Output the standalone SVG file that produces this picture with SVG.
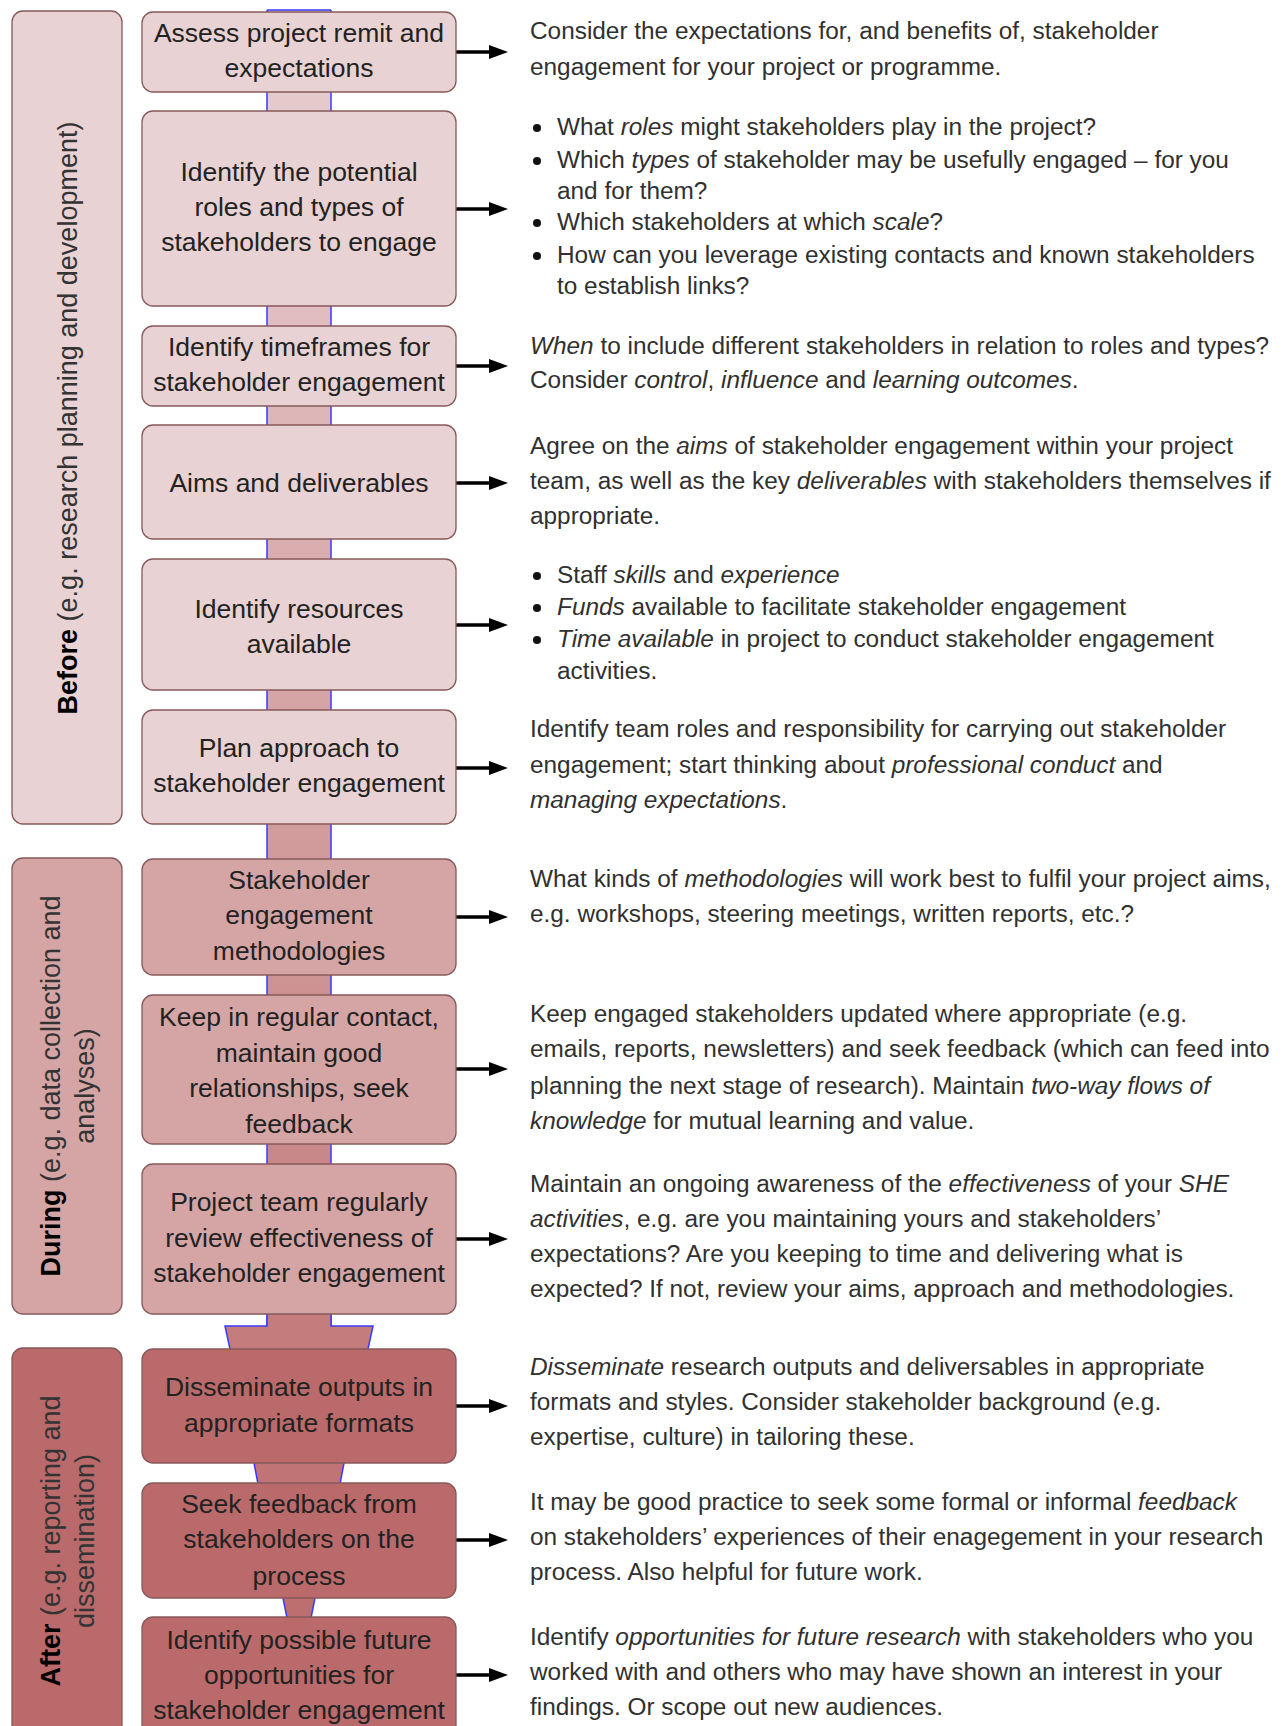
<svg xmlns="http://www.w3.org/2000/svg" width="1284" height="1726" viewBox="0 0 1284 1726">
<style>
.pb{fill:#e8d2d3;stroke:#86595a;stroke-width:1.3}
.pd{fill:#d5a5a6;stroke:#86595a;stroke-width:1.3}
.pa{fill:#bb6a6b;stroke:#86595a;stroke-width:1.3}
.nt{font-family:"Liberation Sans",Arial,sans-serif;font-size:26.5px;fill:#222;text-anchor:middle}
.vt{font-family:"Liberation Sans",Arial,sans-serif;font-size:27px;fill:#333;text-anchor:middle}
.vt .b{font-weight:bold;fill:#000}
.rt{font-family:"Liberation Sans",Arial,sans-serif;font-size:23px;fill:#303030}
.i{font-style:italic}
.con{stroke:#000;stroke-width:3.5;fill:none}
.blue{stroke:#3a3aff;stroke-width:1.5}
</style>
<defs>
<linearGradient id="sg" gradientUnits="userSpaceOnUse" x1="0" y1="10" x2="0" y2="1620">
<stop offset="0" stop-color="#e8d0d1"/>
<stop offset="0.82" stop-color="#c47c7d"/>
<stop offset="1" stop-color="#bd6d6e"/>
</linearGradient>
<marker id="ah" markerUnits="userSpaceOnUse" markerWidth="19" markerHeight="14" refX="3" refY="7" orient="auto">
<path d="M0,0 L19,7 L0,14 z" fill="#000"/>
</marker>
</defs>

<!-- phase panels -->
<g id="phase-before">
<rect class="pb" x="12" y="11" width="110" height="813" rx="11"/>
<text class="vt" transform="translate(77,418) rotate(-90)"><tspan class="b">Before</tspan> (e.g. research planning and development)</text>
</g>
<g id="phase-during">
<rect class="pd" x="12" y="858" width="110" height="456" rx="11"/>
<text class="vt" transform="translate(60,1086) rotate(-90)"><tspan class="b">During</tspan> (e.g. data collection and</text>
<text class="vt" transform="translate(94,1086) rotate(-90)">analyses)</text>
</g>
<g id="phase-after">
<rect class="pa" x="12" y="1348" width="110" height="400" rx="11"/>
<text class="vt" transform="translate(60,1541) rotate(-90)"><tspan class="b">After</tspan> (e.g. reporting and</text>
<text class="vt" transform="translate(94,1541) rotate(-90)">dissemination)</text>
</g>

<!-- connectors -->
<g id="connectors">
<rect x="267" y="10" width="64" height="1316" fill="url(#sg)"/>
<path class="blue" d="M267,10 H331 M267,10 V1326 M331,10 V1326" fill="none"/>
<polygon points="267,1313 267,1326 225,1326 230,1349 368,1349 373,1326 331,1326 331,1313" fill="#c47c7d"/>
<path class="blue" fill="none" d="M267,1314 V1326 H225 L230,1349 M331,1314 V1326 H373 L368,1349"/>
<polygon points="254,1462 344,1462 340,1484 258,1484" fill="#c07475"/>
<path class="blue" fill="none" d="M254,1463 L258,1484 M344,1463 L340,1484"/>
<polygon points="283,1597 315,1597 311,1618 287,1618" fill="#bd6e6f"/>
<path class="blue" fill="none" d="M283,1598 L287,1618 M315,1598 L311,1618"/>
<line class="con" x1="456" y1="52" x2="492" y2="52" marker-end="url(#ah)"/>
<line class="con" x1="456" y1="209" x2="492" y2="209" marker-end="url(#ah)"/>
<line class="con" x1="456" y1="366" x2="492" y2="366" marker-end="url(#ah)"/>
<line class="con" x1="456" y1="483" x2="492" y2="483" marker-end="url(#ah)"/>
<line class="con" x1="456" y1="625" x2="492" y2="625" marker-end="url(#ah)"/>
<line class="con" x1="456" y1="768" x2="492" y2="768" marker-end="url(#ah)"/>
<line class="con" x1="456" y1="917" x2="492" y2="917" marker-end="url(#ah)"/>
<line class="con" x1="456" y1="1069" x2="492" y2="1069" marker-end="url(#ah)"/>
<line class="con" x1="456" y1="1239" x2="492" y2="1239" marker-end="url(#ah)"/>
<line class="con" x1="456" y1="1406" x2="492" y2="1406" marker-end="url(#ah)"/>
<line class="con" x1="456" y1="1540" x2="492" y2="1540" marker-end="url(#ah)"/>
<line class="con" x1="456" y1="1675" x2="492" y2="1675" marker-end="url(#ah)"/>
</g>

<!-- step nodes -->
<g id="n1"><rect class="pb" x="142" y="12" width="314" height="80" rx="11"/>
<text class="nt" x="299" y="42">Assess project remit and</text><text class="nt" x="299" y="77">expectations</text></g>
<g id="n2"><rect class="pb" x="142" y="111" width="314" height="195" rx="11"/>
<text class="nt" x="299" y="181">Identify the potential</text><text class="nt" x="299" y="216">roles and types of</text><text class="nt" x="299" y="251">stakeholders to engage</text></g>
<g id="n3"><rect class="pb" x="142" y="326" width="314" height="80" rx="11"/>
<text class="nt" x="299" y="356">Identify timeframes for</text><text class="nt" x="299" y="391">stakeholder engagement</text></g>
<g id="n4"><rect class="pb" x="142" y="425" width="314" height="114" rx="11"/>
<text class="nt" x="299" y="492">Aims and deliverables</text></g>
<g id="n5"><rect class="pb" x="142" y="559" width="314" height="131" rx="11"/>
<text class="nt" x="299" y="618">Identify resources</text><text class="nt" x="299" y="653">available</text></g>
<g id="n6"><rect class="pb" x="142" y="710" width="314" height="114" rx="11"/>
<text class="nt" x="299" y="757">Plan approach to</text><text class="nt" x="299" y="792">stakeholder engagement</text></g>
<g id="n7"><rect class="pd" x="142" y="859" width="314" height="116" rx="11"/>
<text class="nt" x="299" y="889">Stakeholder</text><text class="nt" x="299" y="924">engagement</text><text class="nt" x="299" y="960">methodologies</text></g>
<g id="n8"><rect class="pd" x="142" y="995" width="314" height="149" rx="11"/>
<text class="nt" x="299" y="1026">Keep in regular contact,</text><text class="nt" x="299" y="1062">maintain good</text><text class="nt" x="299" y="1097">relationships, seek</text><text class="nt" x="299" y="1133">feedback</text></g>
<g id="n9"><rect class="pd" x="142" y="1164" width="314" height="150" rx="11"/>
<text class="nt" x="299" y="1211">Project team regularly</text><text class="nt" x="299" y="1247">review effectiveness of</text><text class="nt" x="299" y="1282">stakeholder engagement</text></g>
<g id="n10"><rect class="pa" x="142" y="1349" width="314" height="114" rx="11"/>
<text class="nt" x="299" y="1396">Disseminate outputs in</text><text class="nt" x="299" y="1432">appropriate formats</text></g>
<g id="n11"><rect class="pa" x="142" y="1483" width="314" height="115" rx="11"/>
<text class="nt" x="299" y="1513">Seek feedback from</text><text class="nt" x="299" y="1548">stakeholders on the</text><text class="nt" x="299" y="1585">process</text></g>
<g id="n12"><rect class="pa" x="142" y="1617" width="314" height="140" rx="11"/>
<text class="nt" x="299" y="1649">Identify possible future</text><text class="nt" x="299" y="1684">opportunities for</text><text class="nt" x="299" y="1719">stakeholder engagement</text></g>

<!-- bullets -->
<g id="bullets" fill="#111">
<circle cx="537" cy="128" r="4"/><circle cx="537" cy="161" r="4"/><circle cx="537" cy="223" r="4"/><circle cx="537" cy="256" r="4"/>
<circle cx="537" cy="576" r="4"/><circle cx="537" cy="608" r="4"/><circle cx="537" cy="640" r="4"/>
</g>

<!-- descriptions -->
<g id="descriptions" class="rt" transform="translate(530 0) scale(1.06 1)">
<text x="0" y="39">Consider the expectations for, and benefits of, stakeholder</text>
<text x="0" y="75">engagement for your project or programme.</text>

<text x="25.5" y="135">What <tspan class="i">roles</tspan> might stakeholders play in the project?</text>
<text x="25.5" y="168">Which <tspan class="i">types</tspan> of stakeholder may be usefully engaged – for you</text>
<text x="25.5" y="199">and for them?</text>
<text x="25.5" y="230">Which stakeholders at which <tspan class="i">scale</tspan>?</text>
<text x="25.5" y="263">How can you leverage existing contacts and known stakeholders</text>
<text x="25.5" y="294">to establish links?</text>

<text x="0" y="354"><tspan class="i">When</tspan> to include different stakeholders in relation to roles and types?</text>
<text x="0" y="388">Consider <tspan class="i">control</tspan>, <tspan class="i">influence</tspan> and <tspan class="i">learning outcomes</tspan>.</text>

<text x="0" y="454">Agree on the <tspan class="i">aims</tspan> of stakeholder engagement within your project</text>
<text x="0" y="489">team, as well as the key <tspan class="i">deliverables</tspan> with stakeholders themselves if</text>
<text x="0" y="524">appropriate.</text>

<text x="25.5" y="583">Staff <tspan class="i">skills</tspan> and <tspan class="i">experience</tspan></text>
<text x="25.5" y="615"><tspan class="i">Funds</tspan> available to facilitate stakeholder engagement</text>
<text x="25.5" y="647"><tspan class="i">Time available</tspan> in project to conduct stakeholder engagement</text>
<text x="25.5" y="679">activities.</text>

<text x="0" y="737">Identify team roles and responsibility for carrying out stakeholder</text>
<text x="0" y="773">engagement; start thinking about <tspan class="i">professional conduct</tspan> and</text>
<text x="0" y="808"><tspan class="i">managing expectations</tspan>.</text>

<text x="0" y="887">What kinds of <tspan class="i">methodologies</tspan> will work best to fulfil your project aims,</text>
<text x="0" y="922">e.g. workshops, steering meetings, written reports, etc.?</text>

<text x="0" y="1022">Keep engaged stakeholders updated where appropriate (e.g.</text>
<text x="0" y="1057">emails, reports, newsletters) and seek feedback (which can feed into</text>
<text x="0" y="1094">planning the next stage of research). Maintain <tspan class="i">two-way flows of</tspan></text>
<text x="0" y="1129"><tspan class="i">knowledge</tspan> for mutual learning and value.</text>

<text x="0" y="1192">Maintain an ongoing awareness of the <tspan class="i">effectiveness</tspan> of your <tspan class="i">SHE</tspan></text>
<text x="0" y="1227"><tspan class="i">activities</tspan>, e.g. are you maintaining yours and stakeholders’</text>
<text x="0" y="1262">expectations? Are you keeping to time and delivering what is</text>
<text x="0" y="1297">expected? If not, review your aims, approach and methodologies.</text>

<text x="0" y="1375"><tspan class="i">Disseminate</tspan> research outputs and deliversables in appropriate</text>
<text x="0" y="1410">formats and styles. Consider stakeholder background (e.g.</text>
<text x="0" y="1445">expertise, culture) in tailoring these.</text>

<text x="0" y="1510">It may be good practice to seek some formal or informal <tspan class="i">feedback</tspan></text>
<text x="0" y="1545">on stakeholders’ experiences of their enagegement in your research</text>
<text x="0" y="1580">process. Also helpful for future work.</text>

<text x="0" y="1645">Identify <tspan class="i">opportunities for future research</tspan> with stakeholders who you</text>
<text x="0" y="1680">worked with and others who may have shown an interest in your</text>
<text x="0" y="1715">findings. Or scope out new audiences.</text>
</g>
</svg>
